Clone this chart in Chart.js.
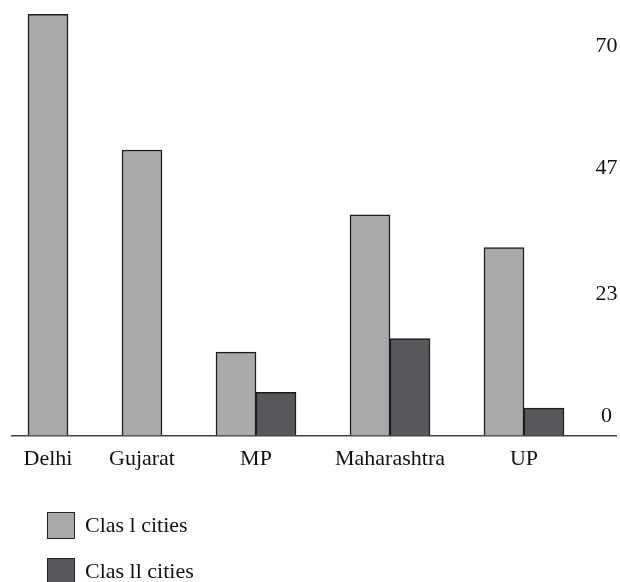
<!DOCTYPE html>
<html>
<head>
<meta charset="utf-8">
<script src="https://cdn.jsdelivr.net/npm/chart.js@4.4.1/dist/chart.umd.min.js"></script>
<style>
  html, body { margin: 0; padding: 0; background: #ffffff; }
  #wrap { position: relative; width: 620px; height: 582px; overflow: hidden; }
  #c { position: absolute; left: 0; top: 0; }
  #legend { position: absolute; left: 47px; top: 511px; font-family: "Liberation Serif", serif; font-size: 22px; color: #111; }
  .item { display: flex; align-items: center; height: 28px; margin-bottom: 18px; white-space: nowrap; }
  .sw { width: 26px; height: 25px; border: 1.5px solid #222; margin-right: 10px; box-sizing: content-box; }
</style>
</head>
<body>
<div id="wrap">
  <canvas id="c" width="620" height="582"></canvas>
  <div id="legend"></div>
</div>
<script>
// ---- data ----
const categories = ['Delhi', 'Gujarat', 'MP', 'Maharashtra', 'UP'];
const seriesNames = ['Clas l cities', 'Clas ll cities'];
const class1Values = [79.8, 54.1, 15.8, 41.8, 35.6];
const class2Values = [null, null, 8.2, 18.4, 5.2];
const yTickValues = [0, 23, 47, 70];

// ---- style ----
const seriesColors = ['#a9a9aa', '#58585c'];
const FONT = { family: '"Liberation Serif", "Times New Roman", serif', size: 22 };
const BAR_PX = 40;          // bar thickness in px
const GAP_UNITS = 54 / 40;  // gap between category groups, in bar widths
const PLOT_LEFT = 12, PLOT_RIGHT = 616;

const series = [class1Values, class2Values];
// number of drawn bars per category (missing values collapse)
const barCounts = categories.map((_, i) => series.filter(s => s[i] !== null && s[i] !== undefined).length);
// category centres on a linear axis whose unit is one bar width
const centers = [];
barCounts.forEach((n, i) => {
  if (i === 0) centers.push(0);
  else centers.push(centers[i - 1] + barCounts[i - 1] / 2 + GAP_UNITS + n / 2);
});
const xMin = -0.9;
const xMax = xMin + (PLOT_RIGHT - PLOT_LEFT) / BAR_PX;

const ctx = document.getElementById('c').getContext('2d');
const chart = new Chart(ctx, {
  type: 'bar',
  data: {
    datasets: series.map((vals, k) => ({
      label: seriesNames[k],
      data: vals.map((v, i) => ({ x: centers[i], y: v })),
      backgroundColor: seriesColors[k],
      borderColor: '#1c1c1c',
      borderWidth: 1.5,
      barThickness: BAR_PX,
      skipNull: true
    }))
  },
  options: {
    responsive: false,
    animation: false,
    devicePixelRatio: 1,
    layout: { padding: { left: PLOT_LEFT, top: 13.3, right: 0, bottom: 0 } },
    plugins: { legend: { display: false }, tooltip: { enabled: false } },
    scales: {
      x: {
        type: 'linear',
        min: xMin,
        max: xMax,
        offset: false,
        grid: { display: false, offset: false, drawTicks: false },
        border: { display: true, color: '#444444', width: 1.5 },
        afterBuildTicks: s => { s.ticks = centers.map(v => ({ value: v })); },
        afterFit: s => { s.height = 582 - 435.6; },
        ticks: {
          autoSkip: false,
          maxRotation: 0,
          minRotation: 0,
          padding: 10,
          color: '#111111',
          font: FONT,
          callback: (v, i) => categories[i]
        }
      },
      y: {
        type: 'linear',
        position: 'right',
        min: 0,
        max: 80,
        grid: { display: false, drawTicks: false },
        border: { display: false },
        afterBuildTicks: s => { s.ticks = yTickValues.map(v => ({ value: v })); },
        afterFit: s => { s.width = 620 - PLOT_RIGHT; s.paddingTop = 0; s.paddingBottom = 0; },
        ticks: {
          mirror: true,
          padding: 1.5,
          crossAlign: 'center',
          labelOffset: -19.6,
          color: '#111111',
          font: FONT,
          callback: v => String(v)
        }
      }
    }
  }
});

// ---- legend (HTML, built from the datasets) ----
const legend = document.getElementById('legend');
chart.data.datasets.forEach(ds => {
  const item = document.createElement('div');
  item.className = 'item';
  const sw = document.createElement('span');
  sw.className = 'sw';
  sw.style.background = ds.backgroundColor;
  const tx = document.createElement('span');
  tx.textContent = ds.label;
  item.appendChild(sw);
  item.appendChild(tx);
  legend.appendChild(item);
});
</script>
</body>
</html>
